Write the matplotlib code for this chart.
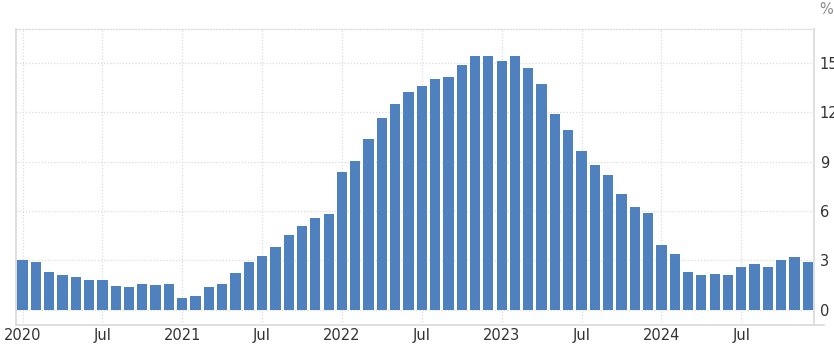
import numpy as np
import matplotlib
matplotlib.use("Agg")
import matplotlib.pyplot as plt
from matplotlib.lines import Line2D

# monthly values, Jan 2020 .. Dec 2024 (%)
values = [
    3.0, 2.9, 2.3, 2.1, 2.0, 1.8, 1.8, 1.45, 1.4, 1.55, 1.5, 1.55,      # 2020
    0.7, 0.85, 1.4, 1.55, 2.25, 2.9, 3.25, 3.8, 4.55, 5.1, 5.6, 5.8,    # 2021
    8.4, 9.05, 10.4, 11.65, 12.5, 13.25, 13.6, 14.0, 14.15, 14.9, 15.4, 15.4,  # 2022
    15.1, 15.4, 14.7, 13.7, 11.9, 10.9, 9.65, 8.8, 8.2, 7.05, 6.25, 5.9,  # 2023
    3.95, 3.4, 2.3, 2.1, 2.15, 2.1, 2.6, 2.8, 2.6, 3.05, 3.2, 2.9,      # 2024
]
tick_pos = [0, 6, 12, 18, 24, 30, 36, 42, 48, 54]
tick_labels = ["2020", "Jul", "2021", "Jul", "2022", "Jul", "2023", "Jul",
               "2024", "Jul"]
y_ticks = [0, 3, 6, 9, 12, 15]

BAR = "#4e81bd"
GRID = "#dcdcdc"
SPINE = "#d9d9d9"
TXT = "#333333"

fig = plt.figure(figsize=(8.34, 3.46), dpi=100)
ax = fig.add_axes([0.0195, 0.0607, 0.9569, 0.8546])

x = np.arange(len(values))
ax.bar(x, values, width=0.77, color=BAR, zorder=2)

ax.set_xlim(-0.47, 59.49)
ax.set_ylim(-0.93, 17.05)
ax.set_xticks(tick_pos)
ax.set_xticklabels(tick_labels)
ax.set_yticks(y_ticks)
ax.yaxis.tick_right()
ax.tick_params(axis="both", length=0, labelsize=10.5, colors=TXT)
ax.tick_params(axis="x", pad=2)
ax.tick_params(axis="y", pad=4)
for lab in ax.get_yticklabels():
    lab.set_horizontalalignment("left")

ax.grid(True, color=GRID, linestyle=(0, (1, 1.5)), linewidth=0.9, zorder=0)
ax.set_axisbelow(True)

for side in ("left", "bottom", "right"):
    ax.spines[side].set_color(SPINE)
    ax.spines[side].set_linewidth(1.2)
ax.spines["top"].set_color(GRID)
ax.spines["top"].set_linestyle((0, (1, 1.5)))
ax.spines["top"].set_linewidth(0.9)

# bottom rule runs a little past the right axis line
fig.add_artist(Line2D([0.9764, 0.988], [0.0607, 0.0607], color=SPINE,
                      linewidth=1.2))

fig.text(0.9905, 0.972, "%", ha="center", va="center", fontsize=10.5,
         color="#8a8a8a")

fig.savefig("out.png", dpi=100)
